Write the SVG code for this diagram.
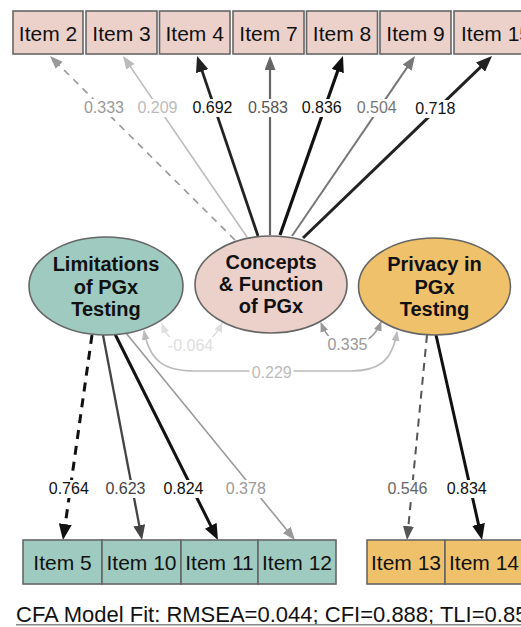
<svg xmlns="http://www.w3.org/2000/svg" width="521" height="627" viewBox="0 0 521 627">
  <style>
    .box { stroke: #666; stroke-width: 1.6; }
    .pink { fill: #ecd1ca; }
    .teal { fill: #9ecac0; }
    .gold { fill: #f0c16b; }
    .item { font-family: "Liberation Sans", Arial, sans-serif; font-size: 21px; fill: #111; text-anchor: middle; }
    .latent { font-family: "Liberation Sans", Arial, sans-serif; font-size: 20px; font-weight: bold; fill: #111; text-anchor: middle; }
    .lab { font-family: "Liberation Sans", Arial, sans-serif; font-size: 16px; text-anchor: middle; }
    .bg { fill: #fff; }
    .edge { fill: none; }
    .cov { fill: none; stroke-width: 1.6; }
    .footer { font-family: "Liberation Sans", Arial, sans-serif; font-size: 22px; fill: #111; }
  </style>
  <defs>
    <!-- loading arrowheads: tip sits 12px beyond the line end -->
    <marker id="a111" markerUnits="userSpaceOnUse" markerWidth="16" markerHeight="13" refX="4" refY="6.5" orient="auto"><path d="M0,0 L16,6.5 L0,13 z" fill="#111"/></marker>
    <marker id="a222" markerUnits="userSpaceOnUse" markerWidth="16" markerHeight="13" refX="4" refY="6.5" orient="auto"><path d="M0,0 L16,6.5 L0,13 z" fill="#222"/></marker>
    <marker id="a444" markerUnits="userSpaceOnUse" markerWidth="15" markerHeight="12" refX="3" refY="6" orient="auto"><path d="M0,0 L15,6 L0,12 z" fill="#444"/></marker>
    <marker id="a555" markerUnits="userSpaceOnUse" markerWidth="14" markerHeight="11" refX="2" refY="5.5" orient="auto"><path d="M0,0 L14,5.5 L0,11 z" fill="#555"/></marker>
    <marker id="a666" markerUnits="userSpaceOnUse" markerWidth="14" markerHeight="11" refX="2" refY="5.5" orient="auto"><path d="M0,0 L14,5.5 L0,11 z" fill="#666"/></marker>
    <marker id="a777" markerUnits="userSpaceOnUse" markerWidth="14" markerHeight="11" refX="2" refY="5.5" orient="auto"><path d="M0,0 L14,5.5 L0,11 z" fill="#777"/></marker>
    <marker id="a999" markerUnits="userSpaceOnUse" markerWidth="13" markerHeight="10" refX="1" refY="5" orient="auto"><path d="M0,0 L13,5 L0,10 z" fill="#999"/></marker>
    <marker id="abbb" markerUnits="userSpaceOnUse" markerWidth="13" markerHeight="10" refX="1" refY="5" orient="auto"><path d="M0,0 L13,5 L0,10 z" fill="#bbb"/></marker>
    <!-- covariance arrowheads (both ends) -->
    <marker id="c999" markerUnits="userSpaceOnUse" markerWidth="10" markerHeight="8" refX="9" refY="4" orient="auto-start-reverse"><path d="M0,0 L10,4 L0,8 z" fill="#999"/></marker>
    <marker id="cbbb" markerUnits="userSpaceOnUse" markerWidth="10" markerHeight="8" refX="9" refY="4" orient="auto-start-reverse"><path d="M0,0 L10,4 L0,8 z" fill="#bbb"/></marker>
    <marker id="cddd" markerUnits="userSpaceOnUse" markerWidth="10" markerHeight="8" refX="9" refY="4" orient="auto-start-reverse"><path d="M0,0 L10,4 L0,8 z" fill="#dedede"/></marker>
  </defs>

  <rect width="521" height="627" fill="#fff"/>

  <g id="connectors">
    <!-- Concepts & Function loadings -->
    <line class="edge" x1="235" y1="240" x2="58.5" y2="64.5" stroke="#999" stroke-width="1.6" stroke-dasharray="7,6" marker-end="url(#a999)"/>
    <line class="edge" x1="247" y1="237" x2="129.8" y2="65.9" stroke="#bbb" stroke-width="1.6" marker-end="url(#abbb)"/>
    <line class="edge" x1="258" y1="236" x2="200.9" y2="67.4" stroke="#222" stroke-width="2.8" marker-end="url(#a222)"/>
    <line class="edge" x1="270" y1="235" x2="270" y2="68" stroke="#666" stroke-width="2.2" marker-end="url(#a666)"/>
    <line class="edge" x1="280" y1="235" x2="339" y2="67.3" stroke="#111" stroke-width="3.2" marker-end="url(#a111)"/>
    <line class="edge" x1="292" y1="236" x2="408.2" y2="65.9" stroke="#777" stroke-width="2" marker-end="url(#a777)"/>
    <line class="edge" x1="303" y1="238" x2="483.4" y2="64.3" stroke="#222" stroke-width="3" marker-end="url(#a222)"/>

    <!-- Limitations loadings -->
    <line class="edge" x1="92" y1="335" x2="64.7" y2="528.1" stroke="#111" stroke-width="3" stroke-dasharray="9,7" marker-end="url(#a111)"/>
    <line class="edge" x1="103" y1="335" x2="139.8" y2="528.2" stroke="#444" stroke-width="2.3" marker-end="url(#a444)"/>
    <line class="edge" x1="115" y1="334" x2="212.6" y2="529.3" stroke="#111" stroke-width="3" marker-end="url(#a111)"/>
    <line class="edge" x1="126" y1="333" x2="287.4" y2="530.7" stroke="#999" stroke-width="1.6" marker-end="url(#a999)"/>

    <!-- Privacy loadings -->
    <line class="edge" x1="427" y1="335" x2="408.2" y2="528.1" stroke="#555" stroke-width="2" stroke-dasharray="8,6" marker-end="url(#a555)"/>
    <line class="edge" x1="436" y1="335" x2="479.4" y2="528.3" stroke="#111" stroke-width="3" marker-end="url(#a111)"/>

    <!-- factor covariances -->
    <path class="cov" d="M144,331 C150,362 165,371 195,371 L350,371 C378,371 392,362 397,332" stroke="#bbb" marker-start="url(#cbbb)" marker-end="url(#cbbb)"/>
    <path class="cov" d="M162,324 C168,340 178,346 190,346 C202,346 214,340 222,323" stroke="#dedede" marker-start="url(#cddd)" marker-end="url(#cddd)"/>
    <path class="cov" d="M321,323 C327,338 335,345 347,345 C360,345 374,340 381,322" stroke="#999" marker-start="url(#c999)" marker-end="url(#c999)"/>

    <!-- edge labels -->
    <g>
      <rect class="bg" x="83" y="99" width="42" height="18"/>
      <text class="lab" x="104" y="113.3" fill="#999">0.333</text>
      <rect class="bg" x="136.5" y="99" width="42" height="18"/>
      <text class="lab" x="157.5" y="113.3" fill="#bbb">0.209</text>
      <rect class="bg" x="191.5" y="99" width="42" height="18"/>
      <text class="lab" x="212.5" y="113.3" fill="#111">0.692</text>
      <rect class="bg" x="247" y="99" width="42" height="18"/>
      <text class="lab" x="268" y="113.3" fill="#555">0.583</text>
      <rect class="bg" x="300.7" y="99" width="42" height="18"/>
      <text class="lab" x="321.7" y="113.3" fill="#111">0.836</text>
      <rect class="bg" x="355.7" y="99" width="42" height="18"/>
      <text class="lab" x="376.7" y="113.3" fill="#777">0.504</text>
      <rect class="bg" x="414.3" y="100" width="42" height="18"/>
      <text class="lab" x="435.3" y="114.3" fill="#111">0.718</text>

      <rect class="bg" x="47.8" y="480" width="42" height="18"/>
      <text class="lab" x="68.8" y="494" fill="#111">0.764</text>
      <rect class="bg" x="104.5" y="480" width="42" height="18"/>
      <text class="lab" x="125.5" y="494" fill="#444">0.623</text>
      <rect class="bg" x="162.5" y="480" width="42" height="18"/>
      <text class="lab" x="183.5" y="494" fill="#111">0.824</text>
      <rect class="bg" x="224.8" y="480" width="42" height="18"/>
      <text class="lab" x="245.8" y="494" fill="#999">0.378</text>
      <rect class="bg" x="386.5" y="480" width="42" height="18"/>
      <text class="lab" x="407.5" y="494" fill="#666">0.546</text>
      <rect class="bg" x="445.7" y="480" width="42" height="18"/>
      <text class="lab" x="466.7" y="494" fill="#111">0.834</text>

      <rect class="bg" x="166" y="337" width="49" height="18"/>
      <text class="lab" x="190.5" y="351" fill="#dedede">-0.064</text>
      <rect class="bg" x="326.5" y="336" width="42" height="18"/>
      <text class="lab" x="347.5" y="350.3" fill="#999">0.335</text>
      <rect class="bg" x="249.5" y="364" width="44" height="18"/>
      <text class="lab" x="271.7" y="377.6" fill="#bbb">0.229</text>
    </g>
  </g>

  <!-- latent factors -->
  <g id="limitations">
    <ellipse class="box teal" cx="106" cy="286" rx="77" ry="49"/>
    <text class="latent" x="106" y="271">Limitations</text>
    <text class="latent" x="106" y="293.5">of PGx</text>
    <text class="latent" x="106" y="316">Testing</text>
  </g>
  <g id="concepts">
    <ellipse class="box pink" cx="271" cy="284.5" rx="76" ry="48.5"/>
    <text class="latent" x="271" y="268.5">Concepts</text>
    <text class="latent" x="271" y="291">&amp; Function</text>
    <text class="latent" x="271" y="313">of PGx</text>
  </g>
  <g id="privacy">
    <ellipse class="box gold" cx="434.5" cy="286.5" rx="76" ry="48.5"/>
    <text class="latent" x="434.5" y="271">Privacy in</text>
    <text class="latent" x="434.5" y="293.5">PGx</text>
    <text class="latent" x="434.5" y="315.5">Testing</text>
  </g>

  <!-- observed items, top row -->
  <g id="item2"><rect class="box pink" x="13" y="11" width="70" height="43"/><text class="item" x="48" y="40.5">Item 2</text></g>
  <g id="item3"><rect class="box pink" x="86" y="11" width="71" height="43"/><text class="item" x="121.5" y="40.5">Item 3</text></g>
  <g id="item4"><rect class="box pink" x="159.5" y="11" width="70.5" height="43"/><text class="item" x="194.7" y="40.5">Item 4</text></g>
  <g id="item7"><rect class="box pink" x="233" y="11" width="71" height="43"/><text class="item" x="268.5" y="40.5">Item 7</text></g>
  <g id="item8"><rect class="box pink" x="306.5" y="11" width="71" height="43"/><text class="item" x="342" y="40.5">Item 8</text></g>
  <g id="item9"><rect class="box pink" x="380" y="11" width="71" height="43"/><text class="item" x="415.5" y="40.5">Item 9</text></g>
  <g id="item15"><rect class="box pink" x="454" y="11" width="84" height="43"/><text class="item" x="496" y="40.5">Item 15</text></g>

  <!-- observed items, bottom row -->
  <g id="item5"><rect class="box teal" x="23" y="540" width="79" height="44"/><text class="item" x="62.5" y="570">Item 5</text></g>
  <g id="item10"><rect class="box teal" x="102" y="540" width="79" height="44"/><text class="item" x="141.5" y="570">Item 10</text></g>
  <g id="item11"><rect class="box teal" x="181" y="540" width="77" height="44"/><text class="item" x="219.5" y="570">Item 11</text></g>
  <g id="item12"><rect class="box teal" x="258" y="540" width="78" height="44"/><text class="item" x="297" y="570">Item 12</text></g>
  <g id="item13"><rect class="box gold" x="367" y="540" width="78" height="44"/><text class="item" x="406" y="570">Item 13</text></g>
  <g id="item14"><rect class="box gold" x="445" y="540" width="78" height="44"/><text class="item" x="484" y="570">Item 14</text></g>

  <!-- model fit caption -->
  <g id="caption">
    <text class="footer" x="16" y="622">CFA Model Fit: RMSEA=0.044; CFI=0.888; TLI=0.859</text>
    <line x1="16" y1="624.8" x2="530" y2="624.8" stroke="#888" stroke-width="1.5"/>
  </g>
</svg>
